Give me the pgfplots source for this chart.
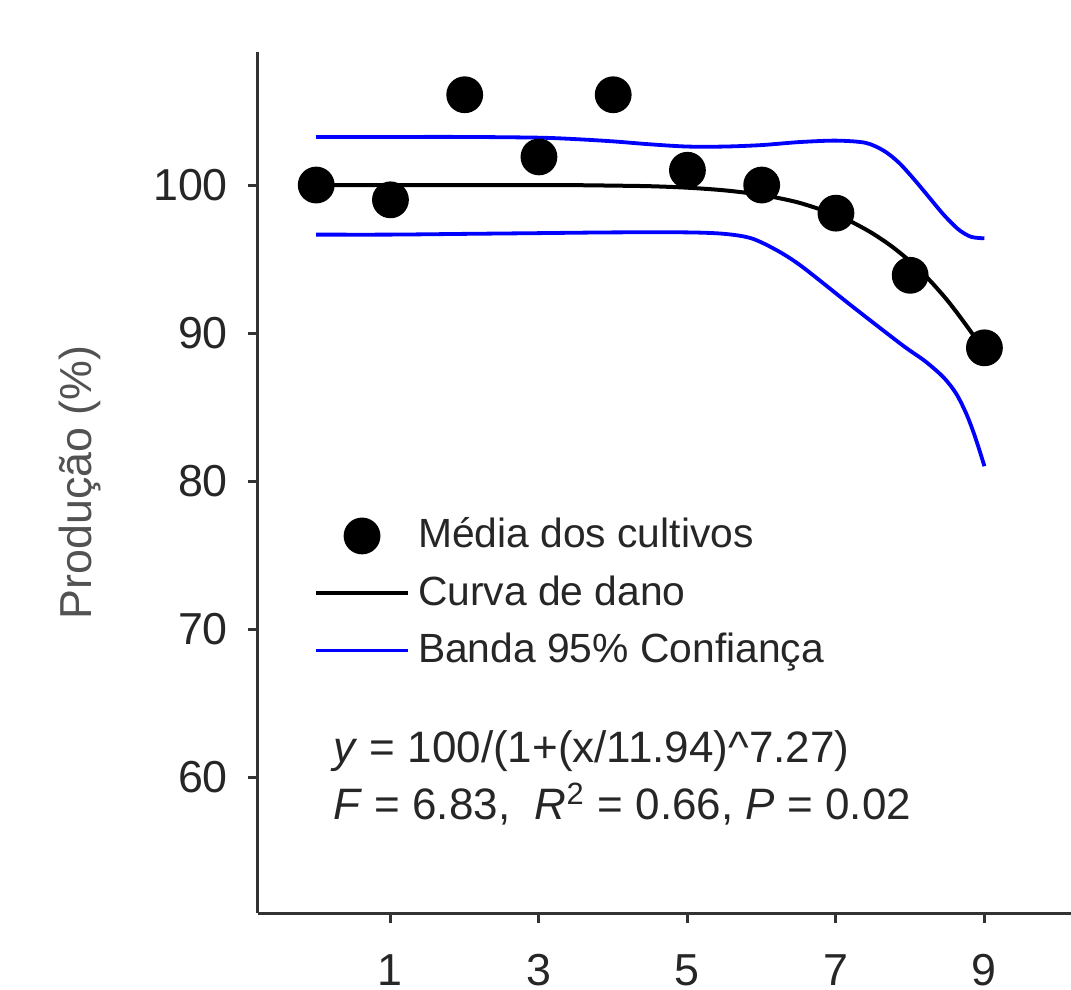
\documentclass[border=0pt]{standalone}
\usepackage{fontspec}
\setmainfont{Liberation Sans}
\usepackage{pgfplots}
\pgfplotsset{compat=1.18}
\definecolor{txt}{gray}{0.15}
\begin{document}
\begin{tikzpicture}
\useasboundingbox (0,0) rectangle (267.75pt,247.25pt);
\begin{axis}[
  at={(64.5pt,19pt)}, anchor=south west,
  scale only axis, width=203.25pt, height=215.25pt,
  xmin=-0.784, xmax=10.166, ymin=50.81, ymax=108.99,
  axis x line*=bottom, axis y line*=left,
  axis line style={black!80, line width=0.75pt},
  tick style={black!80, line width=0.75pt},
  tick align=outside, major tick length=2.5pt,
  xtick={1,3,5,7,9}, ytick={60,70,80,90,100},
  /pgf/number format/assume math mode=true,
  ticklabel style={font=\fontsize{11.2}{13}\selectfont, text=txt},
  yticklabel style={xshift=-1.5pt},
  xticklabel style={yshift=-4.3pt},
  ylabel={Produção (\%)},
  ylabel style={at={(axis description cs:-0.219,0.5)}, anchor=center, font=\fontsize{11.2}{13}\selectfont, text=txt!80!white},
  clip=false,
  legend image code/.code={\draw[mark repeat=2,mark phase=2,#1] plot coordinates {(0pt,0pt) (11.5pt,0pt) (23pt,0pt)};},
  legend cell align=left,
  legend style={draw=none, fill=none, at={(axis cs:-0.04,78.1)}, anchor=north west,
    font=\fontsize{10.2}{12}\selectfont, text=txt, inner sep=0pt, row sep=1.4pt,
    /tikz/every even column/.append style={column sep=6.8pt}},
]
\addplot[only marks, mark=*, mark size=4.4pt, black] coordinates {
(0,100) (1,99) (2,106.1) (3,101.9) (4,106.1) (5,101) (6,100) (7,98.1) (8,93.9) (9,89)};
\addlegendentry{Média dos cultivos}
\addplot[black, line width=1pt, smooth, no marks] coordinates {
(0,100) (1,100) (2,100) (3,100) (3.5,99.99) (4,99.96) (4.5,99.92) (5,99.82) (5.5,99.64) (6,99.33) (6.5,98.81) (7,97.98) (7.25,97.41) (7.5,96.71) (7.75,95.86) (8,94.84) (8.25,93.63) (8.5,92.21) (8.75,90.56) (9,88.8)};
\addlegendentry{Curva de dano}
\addplot[blue, line width=0.95pt, smooth, no marks] coordinates {
(0,103.25) (1,103.25) (2,103.25) (3,103.2) (3.5,103.1) (4,102.95) (4.5,102.75) (5,102.6) (5.5,102.6) (6,102.7) (6.5,102.9) (7,103.0) (7.4,102.85) (7.65,102.3) (7.85,101.5) (8.05,100.4) (8.25,99.2) (8.45,98.0) (8.65,97.0) (8.82,96.5) (9,96.4)};
\addlegendentry{Banda 95\% Confiança}
\addplot[blue, line width=0.95pt, smooth, no marks, forget plot] coordinates {
(0,96.65) (1,96.65) (2,96.7) (3,96.75) (4,96.8) (5,96.8) (5.5,96.7) (5.86,96.4) (6.2,95.6) (6.54,94.5) (7.22,91.8) (7.89,89.2) (8.2,88.1) (8.45,87.0) (8.62,85.9) (8.76,84.5) (8.88,82.9) (9,81.0)};
\node[anchor=base west, inner sep=0pt, font=\fontsize{11}{13}\selectfont, text=txt] at (axis cs:0.22,60.95) {\textit{y} = 100/(1+(x/11.94)\textasciicircum 7.27)};
\node[anchor=base west, inner sep=0pt, font=\fontsize{11}{13}\selectfont, text=txt] at (axis cs:0.22,57.1) {\textit{F} = 6.83,\ \ \textit{R}\textsuperscript{2} = 0.66, \textit{P} = 0.02};
\end{axis}
\end{tikzpicture}
\end{document}
